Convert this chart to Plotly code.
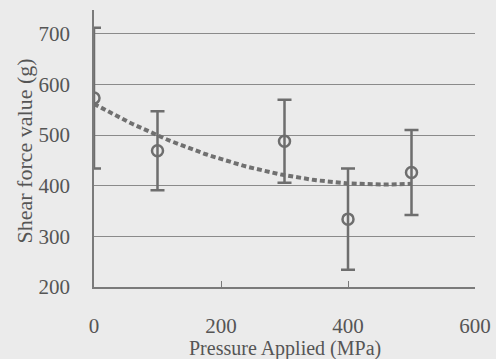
import numpy as np
import plotly.graph_objects as go

pressure = [0, 100, 300, 400, 500]
shear_mean = [573, 469, 488, 334, 426]
shear_err = [139, 78, 82, 100, 84]
x_ticks = [0, 200, 400, 600]
y_ticks = [200, 300, 400, 500, 600, 700]

# 2nd-order polynomial trendline (as in the original spreadsheet chart)
coef = np.polyfit(pressure, shear_mean, 2)
trend_x = np.linspace(min(pressure), max(pressure), 101)
trend_y = np.polyval(coef, trend_x)

grey = "#6e6e6e"
fig = go.Figure()
fig.add_trace(go.Scatter(
    x=trend_x, y=trend_y, mode="lines",
    line=dict(color="#707070", width=4, dash="5px,3px"),
    hoverinfo="skip", showlegend=False))
fig.add_trace(go.Scatter(
    x=pressure, y=shear_mean, mode="markers",
    marker=dict(symbol="circle-open", size=11, color=grey, line=dict(width=2.5, color=grey)),
    error_y=dict(type="data", array=shear_err, visible=True, color=grey, thickness=2.5, width=7),
    showlegend=False))

font_family = "Liberation Serif"
fig.update_layout(
    width=496, height=359,
    margin=dict(l=94, r=21, t=10, b=72),
    paper_bgcolor="#ebebeb", plot_bgcolor="#ebebeb",
    font=dict(family=font_family, size=21, color="#555555"),
    annotations=[
        dict(text="Pressure Applied (MPa)", xref="paper", yref="paper", x=0.5, y=-0.222,
             yanchor="middle", xanchor="center", showarrow=False, font=dict(size=20)),
        dict(text="Shear force value (g)", xref="paper", yref="paper", x=0, y=0.5,
             xanchor="center", yanchor="middle", xshift=-70, yshift=-3, showarrow=False,
             textangle=-90, font=dict(size=22)),
    ],
)
fig.update_xaxes(
    range=[0, 600], tickvals=x_ticks, showgrid=False, zeroline=False, automargin=False,
    showline=True, linecolor="#7a7a7a", linewidth=1.5,
    ticks="inside", ticklen=6, tickcolor="#7a7a7a", ticklabelstandoff=19,
)
fig.update_yaxes(
    range=[200, 747], tickvals=y_ticks, showgrid=True, gridcolor="#8a8a8a", gridwidth=1,
    zeroline=False, showline=True, linecolor="#7a7a7a", linewidth=1.5, automargin=False,
    ticks="", ticklabelstandoff=18,
)
fig.write_html(
    "out.html",
    config={"displayModeBar": False},
    post_script="document.body.style.margin='0';document.body.style.background='#ebebeb';",
)
